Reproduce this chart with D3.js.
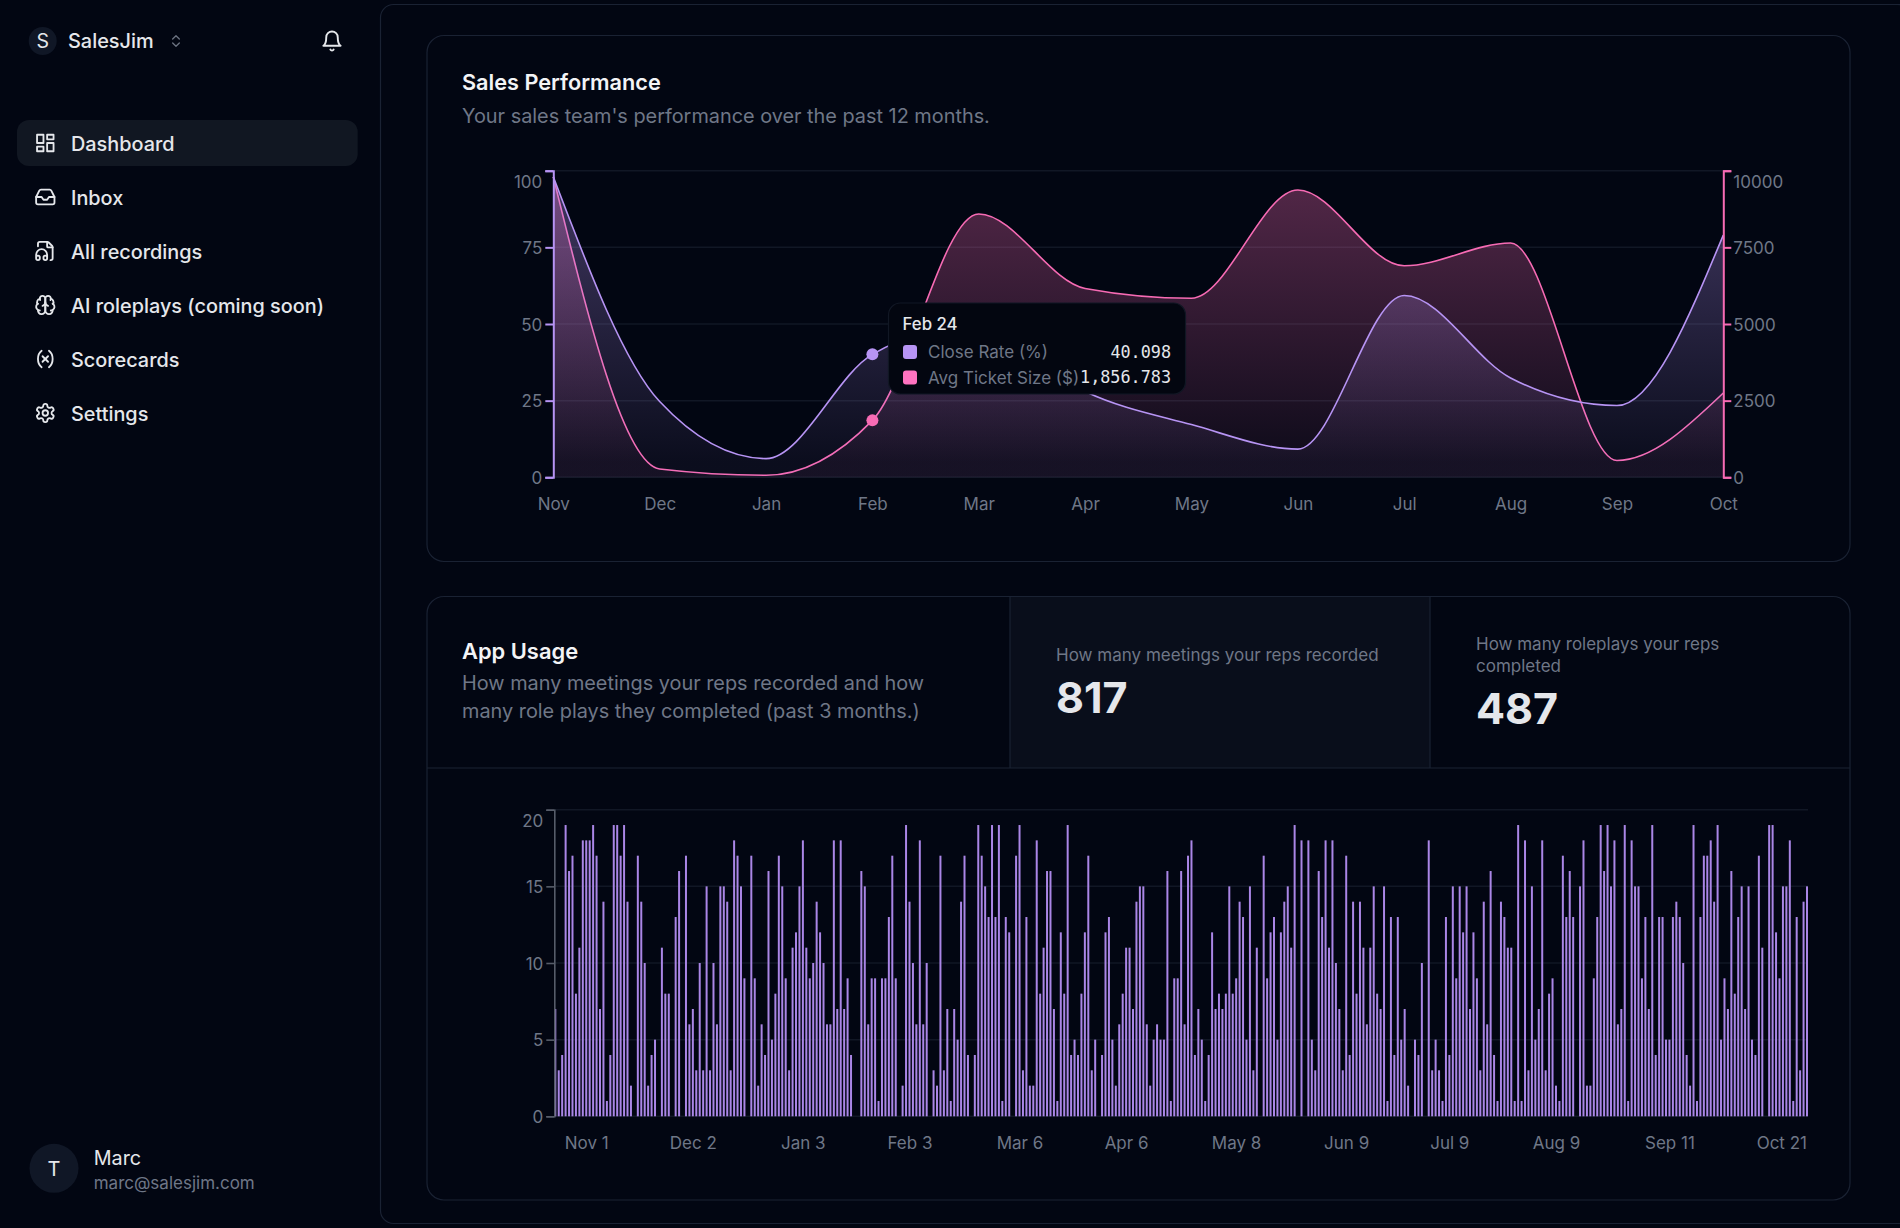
<!DOCTYPE html>
<html>
<head>
<meta charset="utf-8">
<title>SalesJim dashboard</title>
<script src="https://cdn.jsdelivr.net/npm/d3@7"></script>
<style>
    html, body { margin: 0; padding: 0; background: #020612; }
    svg { display: block; }
    text { font-family: Inter, "Noto Sans", sans-serif; }
    .mono { font-family: "DejaVu Sans Mono", monospace; }
</style>
</head>
<body>
<div id="chart"></div>
<script>
// Sales performance data
const months = ["Nov", "Dec", "Jan", "Feb", "Mar", "Apr", "May", "Jun", "Jul", "Aug", "Sep", "Oct"];
const closeRate = [98, 24.7, 6.1, 40.098, 50, 28, 17.2, 9.2, 59.3, 32.4, 23.4, 79];
const ticketSize = [9800, 270, 65, 1856.783, 8590, 6160, 5840, 9370, 6900, 7640, 550, 2750];
const rateTicks = [0, 25, 50, 75, 100];
const ticketTicks = [0, 2500, 5000, 7500, 10000];

// App usage data, one bar per day
const usageValues = [
    7,3,4,19,16,17,8,11,18,18,18,19,17,7,14,1,4,19,19,17,19,14,2,0,17,14,10,2,4,5,
    0,11,8,8,0,13,16,0,17,6,7,3,10,3,15,3,10,6,15,15,14,3,18,17,15,9,0,17,9,2,
    6,4,16,5,8,17,15,9,3,11,12,15,18,11,9,10,14,12,10,6,6,18,7,18,7,9,4,0,0,
    16,15,6,9,9,1,9,9,13,17,9,0,2,19,14,10,6,18,6,10,0,3,2,17,3,7,1,7,5,14,17,4,0,
    4,19,17,15,13,19,13,19,1,13,12,0,17,19,3,13,2,2,18,8,11,16,16,7,1,12,8,19,4,5,4,8,12,17,3,5,0,
    4,12,13,5,2,6,8,11,11,7,14,15,15,6,2,5,6,5,5,16,1,9,9,16,6,17,18,4,7,5,1,4,
    12,7,8,7,8,15,8,9,14,13,5,15,3,11,0,17,9,12,13,5,12,14,15,11,19,0,18,0,18,5,3,16,13,18,11,18,10,7,3,17,4,14,8,14,11,6,11,15,8,7,15,1,13,4,13,5,7,2,0,5,4,10,0,18,3,5,3,1,13,4,15,9,15,12,15,7,12,9,3,14,6,16,4,1,14,13,11,11,1,19,1,18,3,15,5,7,18,3,8,
    9,2,1,17,13,16,13,0,15,18,2,2,9,13,19,16,19,15,18,6,7,19,1,18,15,15,9,13,7,19,4,13,13,5,5,13,14,13,10,4,2,19,1,13,17,17,18,14,19,5,9,7,16,8,13,15,7,15,5,4,17,11,0,19,19,12,9,15,15,18,1,13,3,14,15
];
const usageTickDays = [10, 41, 73, 104, 136, 167, 199, 231, 261, 292, 325, usageValues.length - 1];
const usageTickLabels = ["Nov 1", "Dec 2", "Jan 3", "Feb 3", "Mar 6", "Apr 6", "May 8", "Jun 9", "Jul 9", "Aug 9", "Sep 11", "Oct 21"];
const usageYTicks = [0, 5, 10, 15, 20];

// Sidebar items and their lucide icon outlines
const navLabels = ["Dashboard", "Inbox", "All recordings", "AI roleplays (coming soon)", "Scorecards", "Settings"];
const navIcons = [
    ["M3 3h7v9H3z", "M14 3h7v5h-7z", "M14 12h7v9h-7z", "M3 16h7v5H3z"],
    ["M22 12h-6l-2 3h-4l-2-3H2", "M5.45 5.11 2 12v6a2 2 0 0 0 2 2h16a2 2 0 0 0 2-2v-6l-3.45-6.89A2 2 0 0 0 16.76 4H7.24a2 2 0 0 0-1.79 1.11z"],
    ["M4 6.835V4a2 2 0 0 1 2-2h8a2.4 2.4 0 0 1 1.706.706l3.588 3.588A2.4 2.4 0 0 1 20 8v12a2 2 0 0 1-2 2h-.343", "M14 2v5a1 1 0 0 0 1 1h5", "M2 19a2 2 0 0 1 4 0v1a2 2 0 0 1-4 0v-4a6 6 0 0 1 12 0v4a2 2 0 0 1-4 0v-1a2 2 0 0 1 4 0"],
    ["M12 5a3 3 0 1 0-5.997.125 4 4 0 0 0-2.526 5.77 4 4 0 0 0 .556 6.588A4 4 0 1 0 12 18Z", "M12 5a3 3 0 1 1 5.997.125 4 4 0 0 1 2.526 5.77 4 4 0 0 1-.556 6.588A4 4 0 1 1 12 18Z", "M15 13a4.5 4.5 0 0 1-3-4 4.5 4.5 0 0 1-3 4", "M17.599 6.5a3 3 0 0 0 .399-1.375", "M6.003 5.125A3 3 0 0 0 6.401 6.5", "M3.477 10.896a4 4 0 0 1 .585-.396", "M19.938 10.5a4 4 0 0 1 .585.396", "M6 18a4 4 0 0 1-1.967-.516", "M19.967 17.484A4 4 0 0 1 18 18"],
    ["M8 21s-4-3-4-9 4-9 4-9", "M16 3s4 3 4 9-4 9-4 9", "M15 9l-6 6", "M9 9l6 6"],
    ["M12.22 2h-.44a2 2 0 0 0-2 2v.18a2 2 0 0 1-1 1.73l-.43.25a2 2 0 0 1-2 0l-.15-.08a2 2 0 0 0-2.73.73l-.22.38a2 2 0 0 0 .73 2.73l.15.1a2 2 0 0 1 1 1.72v.51a2 2 0 0 1-1 1.74l-.15.09a2 2 0 0 0-.73 2.73l.22.38a2 2 0 0 0 2.73.73l.15-.08a2 2 0 0 1 2 0l.43.25a2 2 0 0 1 1 1.73V20a2 2 0 0 0 2 2h.44a2 2 0 0 0 2-2v-.18a2 2 0 0 1 1-1.73l.43-.25a2 2 0 0 1 2 0l.15.08a2 2 0 0 0 2.73-.73l.22-.39a2 2 0 0 0-.73-2.73l-.15-.08a2 2 0 0 1-1-1.74v-.5a2 2 0 0 1 1-1.74l.15-.09a2 2 0 0 0 .73-2.73l-.22-.38a2 2 0 0 0-2.73-.73l-.15.08a2 2 0 0 1-2 0l-.43-.25a2 2 0 0 1-1-1.73V4a2 2 0 0 0-2-2z", "M12 9a3 3 0 1 0 0 6 3 3 0 0 0 0-6z"]
];
const bellIcon = ["M6 8a6 6 0 0 1 12 0c0 7 3 9 3 9H3s3-2 3-9", "M10.3 21a1.94 1.94 0 0 0 3.4 0"];
const chevronIcon = ["m7 15 5 5 5-5", "m7 9 5-5 5 5"];

// Colors
const purple = "#b794f4", pink = "#f76bb4", barColor = "#aa86e6";
const gridColor = "#111725", borderColor = "#1a2233";
const textLight = "#e5e7eb", textMuted = "#6f7787";

const svg = d3.select("#chart").append("svg").attr("width", 1900).attr("height", 1228);

function label(g, x, y, txt, size, fill, weight, anchor) {
    return g.append("text").attr("x", x).attr("y", y).text(txt)
        .attr("font-size", size).attr("fill", fill)
        .attr("font-weight", weight || 400)
        .attr("text-anchor", anchor || "start");
}

function icon(g, paths, cx, cy, size, color, width) {
    const k = size / 24;
    const ig = g.append("g")
        .attr("transform", `translate(${cx - size / 2},${cy - size / 2}) scale(${k})`)
        .attr("fill", "none").attr("stroke", color).attr("stroke-width", width || 2)
        .attr("stroke-linecap", "round").attr("stroke-linejoin", "round");
    paths.forEach(d => ig.append("path").attr("d", d));
}

// Sidebar
const side = svg.append("g");
side.append("circle").attr("cx", 42.7).attr("cy", 41).attr("r", 14).attr("fill", "#101726");
label(side, 42.7, 48, "S", 19.5, textLight, 400, "middle");
label(side, 68, 48, "SalesJim", 19.9, textLight, 500);
icon(side, chevronIcon, 176, 41, 16, "#6b7280", 2);
icon(side, bellIcon, 332, 41, 23, textLight, 2);

side.append("rect").attr("x", 17).attr("y", 120).attr("width", 340.7).attr("height", 46)
    .attr("rx", 12).attr("fill", "#111722");
const navY = d3.scalePoint().domain(navLabels).range([143, 413]);
navLabels.forEach((d, i) => {
    label(side, 71, navY(d) + 7.6, d, 19.85, textLight, 500);
    icon(side, navIcons[i], 45.3, navY(d), 22, textLight, 2);
});

side.append("circle").attr("cx", 54).attr("cy", 1168.3).attr("r", 24.5).attr("fill", "#101726");
label(side, 54, 1175.5, "T", 20, textLight, 400, "middle");
label(side, 93.7, 1165, "Marc", 19.8, textLight, 400);
label(side, 93.7, 1188.5, "marc@salesjim.com", 17, textMuted, 400);

// Main panel and cards
svg.append("rect").attr("x", 380.5).attr("y", 4.5).attr("width", 1530).attr("height", 1219)
    .attr("rx", 13).attr("fill", "#020612").attr("stroke", borderColor).attr("stroke-width", 1.2);
svg.append("rect").attr("x", 427).attr("y", 35.5).attr("width", 1423).attr("height", 526)
    .attr("rx", 17).attr("fill", "none").attr("stroke", borderColor).attr("stroke-width", 1.2);

// App usage stat cell sits under the card border
svg.append("rect").attr("x", 1010).attr("y", 597).attr("width", 420).attr("height", 171).attr("fill", "#090e1b");
svg.append("rect").attr("x", 427).attr("y", 596.5).attr("width", 1423).attr("height", 603.5)
    .attr("rx", 17).attr("fill", "none").attr("stroke", borderColor).attr("stroke-width", 1.2);
[1010, 1430].forEach(x => svg.append("line").attr("x1", x).attr("x2", x).attr("y1", 597).attr("y2", 768)
    .attr("stroke", borderColor).attr("stroke-width", 1.2));
svg.append("line").attr("x1", 427).attr("x2", 1850).attr("y1", 768).attr("y2", 768)
    .attr("stroke", borderColor).attr("stroke-width", 1.2);

// Card texts
label(svg, 462, 89.5, "Sales Performance", 21.7, "#f3f4f6", 600);
label(svg, 462, 123, "Your sales team's performance over the past 12 months.", 19.88, textMuted);
label(svg, 462, 659, "App Usage", 21.9, "#f3f4f6", 600);
label(svg, 462, 689.5, "How many meetings your reps recorded and how", 19.87, textMuted);
label(svg, 462, 718, "many role plays they completed (past 3 months.)", 19.87, textMuted);
label(svg, 1056, 661, "How many meetings your reps recorded", 17.05, textMuted);
label(svg, 1056, 712.5, "817", 43, textLight, 700);
label(svg, 1476, 649.5, "How many roleplays your reps", 17, textMuted);
label(svg, 1476, 671.5, "completed", 17, textMuted);
label(svg, 1476, 724, "487", 43, textLight, 700);

// Sales performance chart
const x1 = d3.scalePoint().domain(months).range([553.3, 1723.3]);
const yRate = d3.scaleLinear().domain([0, 100]).range([477.3, 170.7]);
const yTicket = d3.scaleLinear().domain([0, 10000]).range([477.3, 170.7]);

const chart1 = svg.append("g");
chart1.append("g").selectAll("line").data(rateTicks).enter().append("line")
    .attr("x1", 553.3).attr("x2", 1723.3)
    .attr("y1", d => yRate(d)).attr("y2", d => yRate(d))
    .attr("stroke", gridColor).attr("stroke-width", 1.5);

const defs = svg.append("defs");
function gradient(id, color, top) {
    const g = defs.append("linearGradient").attr("id", id)
        .attr("x1", "0").attr("x2", "0").attr("y1", "0").attr("y2", "1");
    g.append("stop").attr("offset", "5%").attr("stop-color", color).attr("stop-opacity", top);
    g.append("stop").attr("offset", "95%").attr("stop-color", color).attr("stop-opacity", 0.05);
}
gradient("fillRate", purple, 0.33);
gradient("fillTicket", pink, 0.32);

function addSeries(values, y, color, fillId) {
    const area = d3.area().curve(d3.curveMonotoneX)
        .x((d, i) => x1(months[i])).y0(y(0)).y1(d => y(d));
    const line = d3.line().curve(d3.curveMonotoneX)
        .x((d, i) => x1(months[i])).y(d => y(d));
    chart1.append("path").datum(values).attr("d", area).attr("fill", `url(#${fillId})`);
    chart1.append("path").datum(values).attr("d", line)
        .attr("fill", "none").attr("stroke", color).attr("stroke-width", 1.6);
}
addSeries(ticketSize, yTicket, pink, "fillTicket");
addSeries(closeRate, yRate, purple, "fillRate");

function styleAxis(g, color, size) {
    g.selectAll(".domain, .tick line").attr("stroke", color).attr("stroke-width", size);
    g.selectAll("text").attr("fill", textMuted).attr("font-size", 17)
        .style("font-family", "Inter");
}
const leftAxis = chart1.append("g").attr("transform", "translate(553.3,0)")
    .call(d3.axisLeft(yRate).tickValues(rateTicks).tickSize(8).tickPadding(3));
styleAxis(leftAxis, purple, 2);
leftAxis.selectAll(".tick text").attr("dy", "0.37em");
leftAxis.selectAll(".tick text").filter(d => d === 100).attr("dy", "1em");

const rightAxis = chart1.append("g").attr("transform", "translate(1723.3,0)")
    .call(d3.axisRight(yTicket).tickValues(ticketTicks).tickSize(8).tickPadding(2).tickFormat(d3.format("d")));
styleAxis(rightAxis, pink, 2);
rightAxis.selectAll(".tick text").attr("dy", "0.37em");
rightAxis.selectAll(".tick text").filter(d => d === 10000).attr("dy", "1em");

const monthAxis = chart1.append("g").attr("transform", "translate(0,477.3)")
    .call(d3.axisBottom(x1).tickSize(0).tickPadding(20.7));
monthAxis.select(".domain").remove();
styleAxis(monthAxis, "none", 0);

// Hovered point on Feb
const hoverMonth = "Feb", hoverIndex = months.indexOf(hoverMonth);
chart1.append("circle").attr("cx", x1(hoverMonth)).attr("cy", yRate(closeRate[hoverIndex])).attr("r", 6)
    .attr("fill", purple);
chart1.append("circle").attr("cx", x1(hoverMonth)).attr("cy", yTicket(ticketSize[hoverIndex])).attr("r", 6)
    .attr("fill", pink);

// Tooltip
const tip = svg.append("g");
tip.append("rect").attr("x", 888.5).attr("y", 303).attr("width", 297).attr("height", 91)
    .attr("rx", 12).attr("fill", "#030610").attr("stroke", "#111724").attr("stroke-width", 1.2);
label(tip, 902.5, 329.5, "Feb 24", 16.8, textLight, 500);
[[closeRate, "Close Rate (%)", purple, 352, "40.098"], [ticketSize, "Avg Ticket Size ($)", "#ff73c0", 377.5, "1,856.783"]].forEach(r => {
    tip.append("rect").attr("x", 903).attr("y", r[3] - 7).attr("width", 14).attr("height", 14)
        .attr("rx", 3).attr("fill", r[2]);
    label(tip, 928, r[3] + 6, r[1], 17, textMuted);
    label(tip, 1171, r[3] + 5.5, r[4], 16.8, textLight, 400, "end").attr("class", "mono");
});

// App usage chart
const x2 = d3.scaleBand().domain(d3.range(usageValues.length)).range([554.3, 1808]).paddingInner(0.42).paddingOuter(0).align(0);
const y2 = d3.scaleLinear().domain([0, 20]).range([1116.3, 809.7]);

const chart2 = svg.append("g");
chart2.append("g").selectAll("line").data(usageYTicks).enter().append("line")
    .attr("x1", 554.3).attr("x2", 1808)
    .attr("y1", d => y2(d)).attr("y2", d => y2(d))
    .attr("stroke", gridColor).attr("stroke-width", 1.5);

chart2.append("g").selectAll("rect").data(usageValues).enter().append("rect")
    .attr("x", (d, i) => x2(i))
    .attr("y", d => y2(d))
    .attr("width", x2.bandwidth())
    .attr("height", d => y2(0) - y2(d))
    .attr("fill", barColor);

const usageAxisY = chart2.append("g").attr("transform", "translate(554.3,0)")
    .call(d3.axisLeft(y2).tickValues(usageYTicks).tickSize(8).tickPadding(3));
styleAxis(usageAxisY, "#565c69", 1.6);
usageAxisY.selectAll(".tick text").attr("dy", "0.37em");
usageAxisY.selectAll(".tick text").filter(d => d === 20).attr("dy", "1em");

const usageAxisX = chart2.append("g").attr("transform", "translate(0,1116.3)")
    .call(d3.axisBottom(x2).tickValues(usageTickDays).tickSize(0).tickPadding(20.3)
        .tickFormat((d, i) => usageTickLabels[i]));
usageAxisX.select(".domain").remove();
styleAxis(usageAxisX, "none", 0);
usageAxisX.selectAll(".tick text").attr("x", -3);
usageAxisX.selectAll(".tick text").filter((d, i) => i === usageTickLabels.length - 1)
    .attr("x", 0).attr("text-anchor", "end");
</script>
</body>
</html>
